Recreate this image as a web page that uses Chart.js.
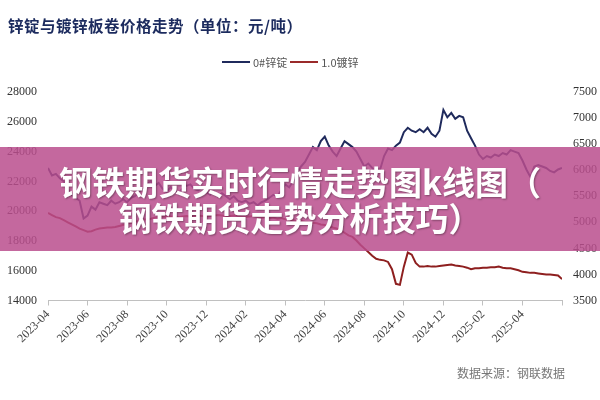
<!DOCTYPE html>
<html><head><meta charset="utf-8">
<script src="https://cdn.jsdelivr.net/npm/chart.js@4"></script>
<style>
html,body{margin:0;padding:0;background:#fff;}
#wrap{position:relative;width:600px;height:400px;overflow:hidden;background:#fff;}
#title{position:absolute;left:8px;top:14px;font-family:"Noto Sans CJK SC",sans-serif;font-weight:700;font-size:15.5px;color:#1c2b5e;letter-spacing:0.5px;white-space:nowrap;}
#legend{position:absolute;top:54px;left:222px;font-family:"Noto Sans CJK SC",sans-serif;font-size:11px;color:#555;white-space:nowrap;display:flex;align-items:center;}
#legend .ln{display:inline-block;width:28px;height:0;border-top:2px solid;margin-right:3px;}
#legend .tx{margin-right:3px;}
#src{position:absolute;left:457px;top:364px;font-family:"Liberation Serif","Noto Sans CJK SC",serif;font-size:12px;color:#777;white-space:nowrap;}
#banner{position:absolute;left:0;top:147px;width:600px;height:104px;background:rgba(186,78,141,0.85);display:flex;flex-direction:column;align-items:center;justify-content:center;}
#banner div{font-family:"Noto Sans CJK SC",sans-serif;font-weight:700;font-size:33px;line-height:36px;color:#fff;text-shadow:1px 1px 2px rgba(0,0,0,0.35);white-space:nowrap;}
</style></head>
<body><div id="wrap">
<canvas id="c" width="600" height="400"></canvas>
<div id="title">锌锭与镀锌板卷价格走势（单位：元/吨）</div>
<div id="legend"><span class="ln" style="border-color:#1f2a5c"></span><span class="tx">0#锌锭</span><span class="ln" style="border-color:#9a2a2a"></span><span class="tx">1.0镀锌</span></div>
<div id="src">数据来源：钢联数据</div>
<div id="banner"><div>钢铁期货实时行情走势图k线图（</div><div>钢铁期货走势分析技巧）</div></div>
</div>
<script>
// tick labels (every 2 months starting 2023-04)
const tickLabels = ['2023-04','2023-06','2023-08','2023-10','2023-12','2024-02','2024-04','2024-06','2024-08','2024-10','2024-12','2025-02','2025-04',''];
// sampling step in months between consecutive values
const stepMonths = 0.2;
// 0#锌锭 (left axis, 元/吨)
const zincValues = [22900,22400,22500,22200,22000,21500,21100,20900,20700,19500,
19700,20300,20100,20600,20500,20400,20700,20500,20600,20800,
20600,20900,21000,21300,21500,21800,22000,21700,21900,21500,
21300,21600,21400,21200,21500,21700,21800,21500,21400,21600,
21300,21100,21300,21000,21200,21000,20800,21000,20700,20600,
20700,20500,20600,20400,20600,20700,20900,21100,21000,21400,
21800,21600,22000,22600,23000,23300,23800,24300,24100,24700,
25000,24400,24000,23700,24200,24700,24500,24300,24000,23500,
23000,23200,22900,22600,22800,23700,24200,24100,24400,24600,
25300,25600,25400,25300,25500,25300,25600,25200,25000,25400,
26800,26300,26600,26200,26400,26300,25400,24900,24400,23800,
23500,23700,23600,23800,23700,23900,23800,24100,24000,23900,
23400,22800,22300,23000,23100,23000,22900,22700,22600,22800,22900];
// 1.0镀锌 (right axis, 元/吨)
const galvValues = [5180,5140,5100,5080,5040,5000,4960,4920,4880,4850,
4820,4830,4860,4880,4890,4900,4900,4910,4930,4950,
4970,4990,5010,5030,5050,5060,5070,5090,5100,5110,
5100,5110,5110,5100,5110,5120,5110,5120,5130,5120,
5110,5120,5130,5140,5130,5120,5120,5130,5120,5110,
5100,5110,5120,5100,5090,5100,5080,5090,5070,5080,
5060,5050,5040,5020,5030,5010,5000,4990,4980,4960,
4950,4930,4900,4880,4850,4800,4750,4720,4650,4570,
4500,4430,4360,4300,4280,4270,4240,4100,3820,3800,
4150,4420,4380,4220,4150,4150,4160,4150,4150,4160,
4170,4180,4190,4170,4160,4150,4130,4100,4120,4120,
4130,4130,4140,4140,4150,4130,4120,4120,4100,4080,
4050,4040,4030,4030,4020,4010,4000,4000,3990,3980,3910];

const zincSeries = zincValues.map((v,i)=>({x:i*stepMonths,y:v}));
const galvSeries = galvValues.map((v,i)=>({x:i*stepMonths,y:v}));

const plain = (v)=>String(v);

new Chart(document.getElementById('c'),{
  type:'line',
  data:{datasets:[
    {label:'0#锌锭',data:zincSeries,yAxisID:'y',borderColor:'#1f2a5c',borderWidth:2,pointRadius:0,tension:0},
    {label:'1.0镀锌',data:galvSeries,yAxisID:'y1',borderColor:'#8e1f1f',borderWidth:2,pointRadius:0,tension:0}
  ]},
  options:{
    responsive:false,animation:false,
    layout:{padding:{top:92,left:0,right:0,bottom:0}},
    plugins:{legend:{display:false},title:{display:false},tooltip:{enabled:false}},
    scales:{
      x:{type:'linear',min:0,max:26,
        afterFit:(s)=>{s.height=99.5;},
        border:{display:true,color:'#c0c0c0',width:1},
        grid:{display:true,drawOnChartArea:false,drawTicks:true,tickLength:5,color:'#c0c0c0'},
        ticks:{stepSize:2,autoSkip:false,minRotation:45,maxRotation:45,padding:2,color:'#444',
          font:{family:'"Liberation Serif", serif',size:12},
          callback:(v)=>tickLabels[Math.round(v/2)] ?? ''}
      },
      y:{position:'left',min:14000,max:28000,
        afterFit:(s)=>{s.width=48;},
        border:{display:false},grid:{display:false,drawTicks:false},
        ticks:{stepSize:2000,padding:11,color:'#333',font:{family:'"Liberation Serif", serif',size:12},callback:plain}
      },
      y1:{position:'right',min:3500,max:7500,
        afterFit:(s)=>{s.width=38;},
        border:{display:false},grid:{display:false,drawTicks:false},
        ticks:{stepSize:500,padding:11,color:'#333',font:{family:'"Liberation Serif", serif',size:12},callback:plain}
      }
    }
  }
});
</script>
</body></html>
